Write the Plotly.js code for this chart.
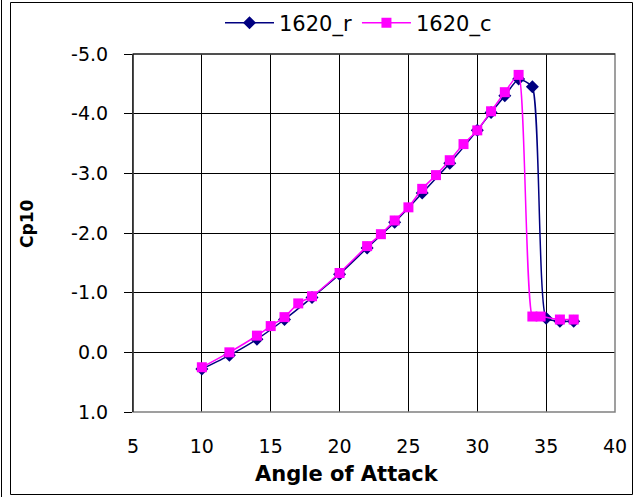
<!DOCTYPE html>
<html>
<head>
<meta charset="utf-8">
<script src="https://cdn.plot.ly/plotly-3.0.1.min.js"></script>
<style>
html,body{margin:0;padding:0;background:#fff;}
#chart{width:637px;height:497px;}
</style>
</head>
<body>
<div id="chart"></div>
<script>
// Data
const seriesRName = "1620_r";
const seriesCName = "1620_c";
const angleR = [10, 12, 14, 16, 18, 20, 22, 24, 26, 28, 30, 31, 32, 33, 34, 35, 36, 37];
const cpR    = [0.28, 0.05, -0.22, -0.55, -0.92, -1.31, -1.75, -2.18, -2.67, -3.17, -3.72, -4.02, -4.30, -4.58, -4.45, -0.57, -0.52, -0.52];
const angleC = [10, 12, 14, 15, 16, 17, 18, 20, 22, 23, 24, 25, 26, 27, 28, 29, 30, 31, 32, 33, 34, 34.6, 36, 37];
const cpC    = [0.25, 0.0, -0.28, -0.44, -0.59, -0.82, -0.94, -1.33, -1.78, -1.98, -2.21, -2.43, -2.74, -2.97, -3.22, -3.49, -3.72, -4.04, -4.36, -4.65, -0.60, -0.60, -0.55, -0.55];
const xTicks = [5, 10, 15, 20, 25, 30, 35, 40];
const yTicks = [-5, -4, -3, -2, -1, 0, 1];
const yTickText = ["-5.0", "-4.0", "-3.0", "-2.0", "-1.0", "0.0", "1.0"];

const W = 637, H = 497;
const L = 133, R = 615, T = 54, B = 412;
const pw = R - L, ph = B - T;
function px(xp){ return (xp - L) / pw; }
function py(yp){ return (B - yp) / ph; }

const traces = [
  {
    x: angleR, y: cpR, name: seriesRName, type: 'scatter', mode: 'lines+markers',
    line: {color: '#000080', width: 1.5, shape: 'spline', smoothing: 0.5},
    marker: {symbol: 'diamond', size: 10, color: '#000080'}
  },
  {
    x: angleC, y: cpC, name: seriesCName, type: 'scatter', mode: 'lines+markers',
    line: {color: '#FF00FF', width: 1.5, shape: 'spline', smoothing: 0.5},
    marker: {symbol: 'square', size: 10, color: '#FF00FF'}
  }
];

const font = {family: 'DejaVu Sans, Verdana, sans-serif', color: '#000'};

const layout = {
  width: W, height: H,
  margin: {l: L, r: W - R, t: T, b: H - B, pad: 0, autoexpand: false},
  paper_bgcolor: '#fff', plot_bgcolor: '#fff',
  font: Object.assign({size: 19}, font),
  showlegend: true,
  legend: {
    orientation: 'h', x: px(220), xanchor: 'left', y: py(23), yanchor: 'middle',
    font: Object.assign({size: 21}, font), bgcolor: 'rgba(0,0,0,0)',
    itemwidth: 49, tracegroupgap: 0
  },
  xaxis: {
    range: [5, 40], tickvals: xTicks, ticktext: xTicks.map(String),
    showgrid: true, gridcolor: '#000', gridwidth: 1,
    zeroline: false, showline: false, ticks: '',
    ticklabelstandoff: 21, automargin: false,
    tickfont: Object.assign({size: 19}, font)
  },
  yaxis: {
    range: [1, -5], tickvals: yTicks, ticktext: yTickText,
    showgrid: true, gridcolor: '#000', gridwidth: 1,
    zeroline: false, showline: true, linecolor: '#000', linewidth: 1,
    ticks: 'outside', ticklen: 8, tickcolor: '#000', tickwidth: 1,
    ticklabelstandoff: 12, automargin: false,
    tickfont: Object.assign({size: 19}, font)
  },
  shapes: [
    {type: 'rect', xref: 'paper', yref: 'paper', x0: 0, x1: 1, y0: 0, y1: 1,
     line: {color: '#808080', width: 1.5}, layer: 'above'},
    {type: 'line', xref: 'paper', yref: 'paper', x0: 0, x1: 0, y0: 0, y1: 1,
     line: {color: '#000', width: 1}, layer: 'above'},
    {type: 'line', xref: 'paper', yref: 'paper', x0: 0, x1: 1, y0: 1, y1: 1,
     line: {color: '#000', width: 1}, layer: 'above'},
    {type: 'rect', xref: 'paper', yref: 'paper', x0: px(10.5), x1: px(632.5), y0: py(494.5), y1: py(2.5),
     line: {color: '#000', width: 1}, layer: 'below'},
    {type: 'line', xref: 'paper', yref: 'paper', x0: px(1.5), x1: px(1.5), y0: py(497), y1: py(0),
     line: {color: '#000', width: 1}, layer: 'below'}
  ],
  annotations: [
    {text: '<b>Angle of Attack</b>', xref: 'paper', yref: 'paper', x: px(347), y: py(474),
     xanchor: 'center', yanchor: 'middle', showarrow: false, font: Object.assign({size: 21}, font)},
    {text: '<b>Cp10</b>', xref: 'paper', yref: 'paper', x: px(27), y: py(224),
     xanchor: 'center', yanchor: 'middle', showarrow: false, textangle: -90, font: Object.assign({size: 17}, font)}
  ]
};

Plotly.newPlot('chart', traces, layout, {displayModeBar: false, staticPlot: true});
</script>
</body>
</html>
